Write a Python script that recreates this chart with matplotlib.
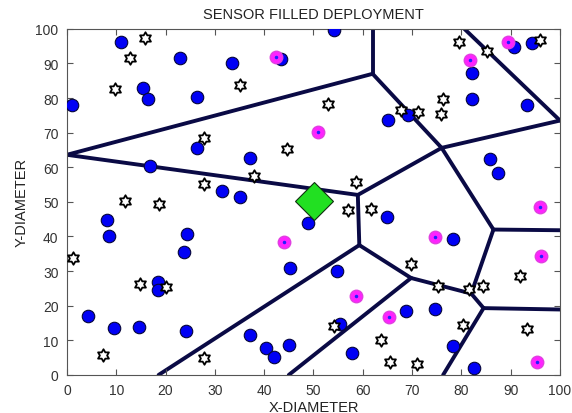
import numpy as np
import matplotlib
matplotlib.use("Agg")
import matplotlib.pyplot as plt
from matplotlib.path import Path

plt.rcParams['font.family'] = ['Liberation Sans', 'DejaVu Sans']

# sensor nodes (blue)
sensor_x = [1, 11, 15.4, 16.4, 23, 33.5, 26.3, 54.2, 43.5, 26.4, 37.1, 16.8, 31.5, 35.2,
            8.1, 8.5, 24.4, 23.7, 18.4, 18.4, 4.3, 9.6, 14.7, 24.2, 37.1, 40.3, 42, 45.1,
            45.2, 48.9, 54.8, 55.3, 57.8, 65, 65.1, 69.2, 82.1, 82.1, 90.7, 94.4, 93.3,
            85.8, 87.4, 78.3, 68.8, 74.6, 78.3, 82.6]
sensor_y = [78, 96.2, 82.9, 79.6, 91.6, 90.2, 80.2, 99.7, 91.2, 65.6, 62.7, 60.4, 53.1, 51.5,
            44.8, 40.2, 40.7, 35.4, 26.8, 24.4, 17.1, 13.5, 13.8, 12.8, 11.5, 7.8, 5.2, 8.6,
            30.8, 44, 29.9, 14.7, 6.3, 45.5, 73.6, 75, 87.3, 79.8, 94.7, 95.8, 77.9,
            62.3, 58.4, 39.3, 18.5, 19.1, 8.3, 2]

# empty positions (stars)
star_x = [15.9, 12.7, 9.8, 27.8, 35.1, 53, 44.7, 27.9, 11.8, 18.7, 1.3, 37.9, 58.7, 57,
          61.7, 79.5, 85.2, 96, 76.3, 75.8, 67.8, 71.2, 14.9, 20, 7.4, 27.8, 54.2, 63.6,
          65.6, 70.9, 69.8, 91.9, 75.3, 81.5, 84.3, 80.4, 93.4]
star_y = [97.3, 91.7, 82.7, 68.5, 83.7, 78.4, 65.4, 55.3, 50.2, 49.3, 33.9, 57.5, 55.8, 47.6,
          47.8, 96.3, 93.5, 96.9, 79.8, 75.5, 76.5, 76, 26.2, 25.3, 5.7, 4.9, 14, 10.2,
          3.8, 3.2, 32.1, 28.7, 25.6, 24.9, 25.6, 14.5, 13.3]

# filled nodes (magenta)
fill_x = [42.4, 51, 81.7, 89.4, 96, 74.6, 44.1, 58.7, 65.4, 96.2, 95.3]
fill_y = [91.8, 70.2, 90.9, 96.3, 48.6, 39.8, 38.3, 22.7, 16.6, 34.5, 3.7]

# base station
sink_x, sink_y = 50.2, 50.2

# voronoi edges
edges = [
    ((62, 100), (62, 87)),
    ((62, 87), (0, 63.6)),
    ((62, 87), (76, 65.6)),
    ((80.6, 100), (100, 73.5)),
    ((76, 65.6), (100, 73.5)),
    ((76, 65.6), (59, 52)),
    ((59, 52), (0, 63.6)),
    ((59, 52), (59.3, 37.5)),
    ((59.3, 37.5), (18.6, 0)),
    ((59.3, 37.5), (69.8, 28)),
    ((69.8, 28), (45, 0)),
    ((69.8, 28), (82, 23.5)),
    ((82, 23.5), (86.5, 42)),
    ((86.5, 42), (76, 65.6)),
    ((86.5, 42), (100, 41.8)),
    ((82, 23.5), (84.5, 19.3)),
    ((84.5, 19.3), (100, 18.9)),
    ((84.5, 19.3), (76.3, 0)),
]

fig = plt.figure(figsize=(5.72, 4.14), dpi=100)
ax = fig.add_axes([0.117, 0.092, 0.862, 0.836])

for (x0, y0), (x1, y1) in edges:
    ax.plot([x0, x1], [y0, y1], color='#0a0a45', lw=2.8, solid_capstyle='round', zorder=1)

hexagram = Path.unit_regular_star(6, innerCircle=0.577)

ax.plot(sensor_x, sensor_y, 'o', color='#0000f5', mec='#05053a', mew=0.8, ms=9, zorder=3)
ax.plot(star_x, star_y, ls='none', marker=hexagram, mfc='white', mec='black', mew=1.3,
        ms=9, zorder=4)
ax.plot(fill_x, fill_y, 'o', color='#ff22ff', mec='#e040e0', mew=1, ms=9, zorder=5)
ax.plot(fill_x, fill_y, '.', color='#2020ff', ms=3, zorder=6)
ax.plot(sink_x, sink_y, 'D', color='#22e022', mec='#103010', mew=0.8, ms=19, zorder=7)

ax.set_xlim(0, 100)
ax.set_ylim(0, 100)
ax.set_xticks(np.arange(0, 101, 10))
ax.set_yticks(np.arange(0, 101, 10))
ax.tick_params(direction='in', top=True, right=True, length=4, labelsize=10,
               labelcolor='#333333', color='#555555', pad=6)
for s in ax.spines.values():
    s.set_color('#555555')
    s.set_linewidth(0.8)

ax.set_title('SENSOR FILLED DEPLOYMENT', fontsize=10.5, color='#222222', pad=8)
ax.set_xlabel('X-DIAMETER', fontsize=10.5, color='#222222', labelpad=2)
ax.set_ylabel('Y-DIAMETER', fontsize=10.5, color='#222222', labelpad=5)

fig.savefig('out.png', dpi=100)
